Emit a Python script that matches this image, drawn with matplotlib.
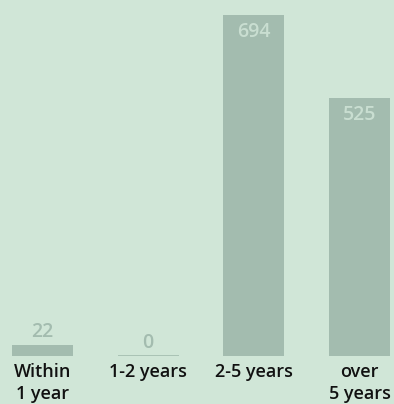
import matplotlib.pyplot as plt

categories = ['Within\n1 year', '1-2 years', '2-5 years', 'over\n5 years']
values = [22, 0, 694, 525]

BG = '#d0e6d7'
BAR = '#a3bcaf'
LIGHT = '#c9ded1'

plt.rcParams['font.family'] = ['Open Sans', 'DejaVu Sans']

fig = plt.figure(figsize=(3.94, 4.04), dpi=100)
fig.patch.set_facecolor(BG)
ax = fig.add_axes([0, 48 / 404, 1, 1 - 48 / 404])
ax.set_facecolor(BG)

x = range(len(values))
ax.bar(x, values, width=0.577, color=BAR)
# zero bar shown as a thin line
ax.hlines(0, 1 - 0.2885, 1 + 0.2885, color=BAR, lw=1.2)

ax.set_xlim(-0.402, 3.326)
ax.set_ylim(0, 724.5)

for i, v in enumerate(values):
    if v > 100:
        ax.annotate(str(v), (i, v), xytext=(0, -7), textcoords='offset pixels',
                    ha='center', va='top', color=LIGHT, fontsize=14,
                    fontweight='semibold')
    else:
        ax.annotate(str(v), (i, v), xytext=(0, 3), textcoords='offset pixels',
                    ha='center', va='bottom', color=BAR, fontsize=14,
                    fontweight='semibold')

ax.set_xticks(list(x))
ax.set_xticklabels(categories, fontsize=13, fontweight='semibold',
                   color='#111111', linespacing=1.3)
ax.tick_params(axis='x', length=0, pad=5)
ax.set_yticks([])
for s in ax.spines.values():
    s.set_visible(False)

fig.savefig('out.png', dpi=100, facecolor=BG)
